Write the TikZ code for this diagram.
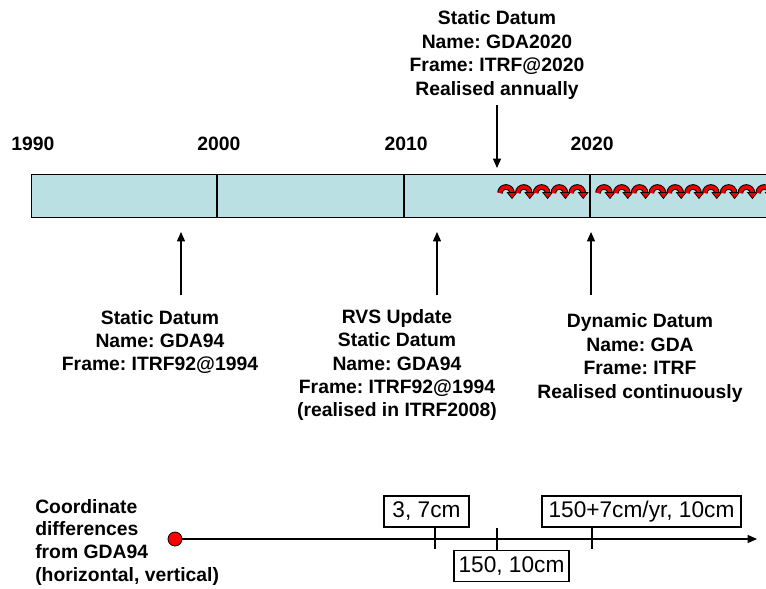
\documentclass[tikz,border=0pt]{standalone}
\usepackage{fontspec}
\setmainfont{Liberation Sans}
\usetikzlibrary{arrows.meta}
\definecolor{barfill}{RGB}{187,224,227}
\definecolor{glyphred}{RGB}{235,0,0}
\frenchspacing
\begin{document}
\begin{tikzpicture}[x=0.75pt,y=-0.75pt,
  lbl/.style={font=\fontsize{14.5}{17.6}\selectfont\bfseries, align=center, inner sep=0pt},
  yearlbl/.style={font=\fontsize{14.5}{17.6}\selectfont\bfseries, inner sep=0pt},
  valbox/.style={draw, line width=0.9pt, font=\fontsize{17}{19}\selectfont, minimum height=31*0.75pt, inner xsep=3pt, inner ysep=0pt},
  ptr/.style={line width=0.9pt, -{Triangle[width=6pt,length=7pt]}},
  tick/.style={line width=1.5pt}
]
\useasboundingbox (0,0) rectangle (766,588);

% ---- timeline bar ----
\begin{scope}
\clip (0,0) rectangle (766,588);
\node[draw, line width=1.1pt, fill=barfill, minimum width=800*0.75pt, minimum height=43*0.75pt, inner sep=0pt, anchor=north west] (bar) at (31,174) {};
\coordinate (d1t) at (217,174); \coordinate (d1b) at (217,217);
\coordinate (d2t) at (404,174); \coordinate (d2b) at (404,217);
\coordinate (d3t) at (590,174); \coordinate (d3b) at (590,217);
\draw[line width=1.1pt] (d1t) -- (d1b);
\draw[line width=1.1pt] (d2t) -- (d2b);
\draw[line width=1.1pt] (d3t) -- (d3b);
% curved arrow glyphs
\foreach \cx in {506,523.8,541.6,559.4,577.2, 604,621.8,639.6,657.4,675.2,693,710.8,728.6,746.4,764.2}{
  \draw[black, line width=4.2pt] (\cx-6,193) arc[start angle=180, end angle=360, radius=6];
  \draw[glyphred, line width=2.7pt] (\cx-6,193) arc[start angle=180, end angle=360, radius=6];
  \filldraw[fill=glyphred, draw=black, line width=0.5pt] (\cx+1.2,192.5) -- (\cx+10.8,192.5) -- (\cx+6,198.5) -- cycle;
}
\end{scope}

% ---- year labels ----
\node[yearlbl] (y1990) at (33,144) {1990};
\node[yearlbl] (y2000) at (219,144) {2000};
\node[yearlbl] (y2010) at (406,144) {2010};
\node[yearlbl] (y2020) at (592,144) {2020};

% ---- top label ----
\node[lbl] (top) at (497,55) {Static Datum\\Name: GDA2020\\Frame: ITRF@2020\\Realised annually};
\coordinate (topS) at (497,105);
\coordinate (topE) at (497,168);
\draw[ptr] (topS) -- (topE);

% ---- lower labels ----
\node[lbl] (gda94) at (160,342) {Static Datum\\Name: GDA94\\Frame: ITRF92@1994};
\node[lbl] (rvs) at (397,365) {RVS Update\\Static Datum\\Name: GDA94\\Frame: ITRF92@1994\\(realised in ITRF2008)};
\node[lbl] (dyn) at (640,358) {Dynamic Datum\\Name: GDA\\Frame: ITRF\\Realised continuously};

\coordinate (a1s) at (181,295); \coordinate (a1e) at (181,232);
\coordinate (a2s) at (437,295); \coordinate (a2e) at (437,232);
\coordinate (a3s) at (591,295); \coordinate (a3e) at (591,232);
\draw[ptr] (a1s) -- (a1e);
\draw[ptr] (a2s) -- (a2e);
\draw[ptr] (a3s) -- (a3e);

% ---- coordinate differences axis ----
\node[font=\fontsize{14.5}{17}\selectfont\bfseries, align=left, inner sep=0pt, anchor=west] (cdiff) at (35,542) {Coordinate\\differences\\from GDA94\\(horizontal, vertical)};
\node[circle, draw=black, line width=0.6pt, fill=red, minimum size=14*0.75pt, inner sep=0pt] (dot) at (175,539) {};
\coordinate (axisEnd) at (757,539);
\draw[line width=0.9pt, -{Triangle[width=6pt,length=7pt]}] (dot.east) -- (axisEnd);

\node[valbox, minimum width=85*0.75pt] (b1) at (426.5,511.5) {3, 7cm};
\node[valbox, minimum width=199*0.75pt] (b3) at (641.5,511.5) {150+7cm/yr, 10cm};
\node[valbox, minimum width=115*0.75pt] (b2) at (511.5,566) {150, 10cm};

\coordinate (t1a) at (435,527); \coordinate (t1b) at (435,549);
\coordinate (t2a) at (497,528); \coordinate (t2b) at (497,550);
\coordinate (t3a) at (592,527); \coordinate (t3b) at (592,549);
\draw[tick] (t1a) -- (t1b);
\draw[tick] (t2a) -- (t2b);
\draw[tick] (t3a) -- (t3b);
\end{tikzpicture}
\end{document}
